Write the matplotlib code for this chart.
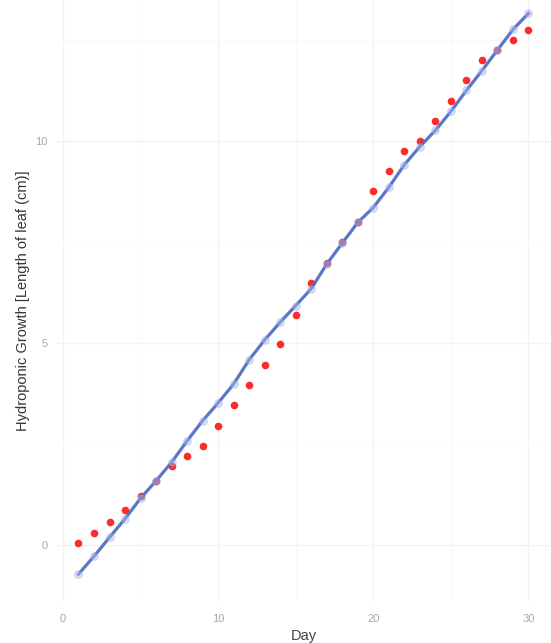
import matplotlib
matplotlib.use('Agg')
import matplotlib.pyplot as plt

# measured leaf length per day
days = list(range(1, 31))
leaf_length = [0.04, 0.30, 0.55, 0.85, 1.21, 1.58, 1.95, 2.20, 2.45, 2.95,
               3.46, 3.95, 4.46, 4.96, 5.70, 6.47, 6.98, 7.50, 8.00, 8.75,
               9.26, 9.75, 10.00, 10.50, 11.00, 11.50, 12.00, 12.25, 12.50, 12.75]
# fitted values (blue line)
fitted = [-0.73, -0.29, 0.18, 0.64, 1.15, 1.58, 2.04, 2.57, 3.07, 3.51,
          3.98, 4.58, 5.07, 5.51, 5.92, 6.34, 6.95, 7.47, 7.98, 8.35,
          8.85, 9.41, 9.86, 10.26, 10.73, 11.25, 11.74, 12.25, 12.76, 13.16]

x_ticks = [0, 10, 20, 30]
y_ticks = [0, 5, 10]

plt.rcParams['font.family'] = ['Liberation Sans', 'DejaVu Sans']

fig = plt.figure(figsize=(5.51, 6.43), dpi=100)
ax = fig.add_axes([0.1016, 0.0638, 0.8984, 0.9362])

ax.scatter(days, leaf_length, s=30, color='#ff2a2a', zorder=3, linewidths=0)
ax.plot(days, fitted, color='#4a67c0', linewidth=2.3, alpha=0.9, zorder=4)
ax.scatter(days, fitted, s=30, facecolor='#aebcf0', edgecolor='#8a9ee4',
           linewidths=0.6, alpha=0.45, zorder=5)

ax.set_xlim(-0.45, 31.45)
ax.set_ylim(-1.42, 13.49)

ax.set_xticks(x_ticks)
ax.set_yticks(y_ticks)
ax.set_xticks([5, 15, 25], minor=True)
ax.set_yticks([2.5, 7.5, 12.5], minor=True)
ax.grid(True, which='major', color='#f2f2f2', linewidth=1.0)
ax.grid(True, which='minor', color='#f8f8f8', linewidth=0.6)
ax.set_axisbelow(True)

for side in ax.spines.values():
    side.set_visible(False)
ax.tick_params(which='both', length=0)
ax.tick_params(axis='both', labelsize=8, labelcolor='#a8a8a8', pad=6)
ax.tick_params(axis='x', pad=9)

ax.set_xlabel('Day', fontsize=10.5, color='#444444', labelpad=3)
ax.set_ylabel('Hydroponic Growth [Length of leaf (cm)]', fontsize=10.5,
              color='#333333', labelpad=4)

fig.savefig('out.png', dpi=100)
